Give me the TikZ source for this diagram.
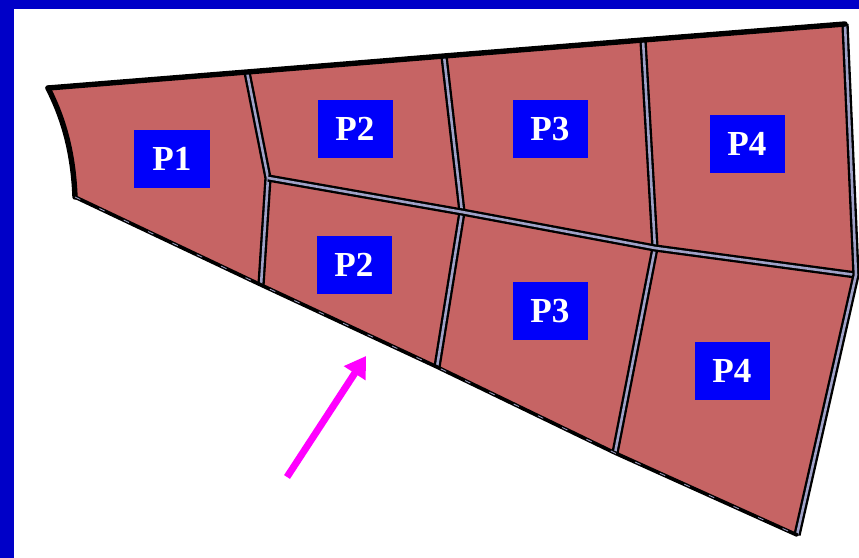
\documentclass[tikz,border=0pt]{standalone}
\usepackage{fontspec}
\setmainfont{Liberation Serif}
\usepackage{tikz}
\usetikzlibrary{arrows.meta}
\definecolor{framblue}{RGB}{0,0,200}
\definecolor{partblue}{RGB}{0,0,250}
\definecolor{meshred}{RGB}{198,100,100}
\definecolor{seamgray}{RGB}{160,162,200}
\definecolor{arrowpink}{RGB}{255,0,255}
\tikzset{
  seam/.style={draw=black, line width=2pt, double=seamgray,
               double distance=2.2pt, line join=round},
  rim/.style={draw=black, line width=4.6pt, line join=round, line cap=round},
  lowrim/.style={draw=black, line width=3.2pt, line join=round, line cap=round},
  partbox/.style={fill=partblue, text=white, minimum width=2.25cm,
                  minimum height=1.74cm, inner sep=0pt,
                  font=\fontsize{30}{30}\selectfont\bfseries},
  pointer/.style={-{Triangle[length=6.2mm,width=7.4mm]}, draw=arrowpink,
                  line width=6pt},
}

\begin{document}
\begin{tikzpicture}[x=0.03cm,y=-0.03cm]
  \path[use as bounding box] (0,0) rectangle (859,558);

  % Frame.
  \fill[framblue] (0,0) rectangle (859,558);
  \fill[white] (14,9) rectangle (859,558);

  % Mesh corners.
  \coordinate (tl) at (48,88);
  \coordinate (t1) at (247,72);
  \coordinate (t2) at (444,56);
  \coordinate (t3) at (643,40);
  \coordinate (tr) at (845,24);
  \coordinate (mr) at (856,275);
  \coordinate (br) at (797,535);
  \coordinate (b3) at (615,453);
  \coordinate (b2) at (437,367);
  \coordinate (b1) at (261,285);
  \coordinate (bl) at (75,197);
  \coordinate (m1) at (268,178);
  \coordinate (m2) at (462,212);
  \coordinate (m3) at (655,248);

  \fill[meshred] (tl) -- (t1) -- (t2) -- (t3) -- (tr) -- (mr) -- (br)
    -- (b3) -- (b2) -- (b1) -- (bl) .. controls (73,145) and (60,112) .. (tl);

  % Inner seams.
  \draw[seam] (t1) -- (m1) -- (b1);
  \draw[seam] (t2) -- (m2) -- (b2);
  \draw[seam] (t3) -- (m3) -- (b3);
  \draw[seam] (m1) -- (m2) -- (m3) -- (mr);
  \draw[seam] (tr) -- (mr) -- (br);

  % Outer rim.
  \draw[rim] (tl) -- (t1) -- (t2) -- (t3) -- (tr);
  \draw[rim] (tl) .. controls (60,112) and (73,145) .. (bl);
  \draw[lowrim] (bl) -- (b1) -- (b2) -- (b3) -- (br);
  \draw[seamgray, line width=0.7pt, dash pattern=on 5pt off 18pt]
    (bl) -- (b1) -- (b2) -- (b3) -- (br);

  % Partitions.
  \node[partbox] (p1) at (172,159) {P1};
  \node[partbox] (p2a) at (355,129) {P2};
  \node[partbox] (p3a) at (550,129) {P3};
  \node[partbox] (p4a) at (747,144) {P4};
  \node[partbox] (p2b) at (354,265) {P2};
  \node[partbox] (p3b) at (550,311) {P3};
  \node[partbox] (p4b) at (732,371) {P4};

  \coordinate (tail) at (287,477);
  \coordinate (tip) at (366,356);
  \draw[pointer] (tail) -- (tip);
\end{tikzpicture}
\end{document}
